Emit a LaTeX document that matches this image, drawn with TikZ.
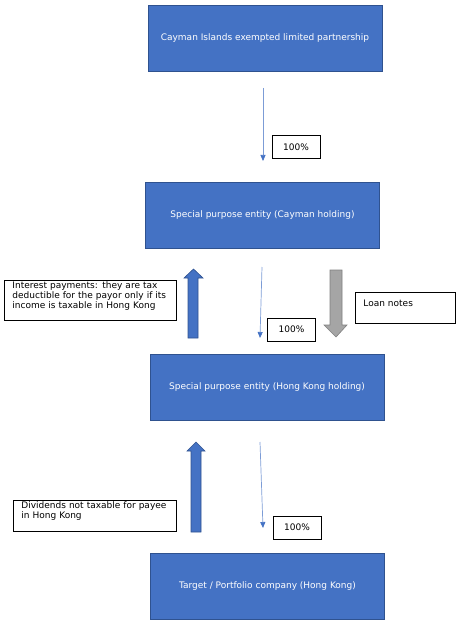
\documentclass[tikz,border=0pt]{standalone}
\usepackage{fontspec}
\setmainfont{DejaVu Sans}
\usetikzlibrary{arrows.meta}
\definecolor{boxfill}{HTML}{4472C4}
\definecolor{boxline}{HTML}{2F528F}
\definecolor{grayfill}{HTML}{A5A5A5}
\definecolor{grayline}{HTML}{7F7F7F}
\tikzset{
  entity/.style={draw=boxline, fill=boxfill, line width=0.8pt, text=white,
    font=\fontsize{9}{11}\selectfont, minimum width=234pt, minimum height=66pt, inner sep=0pt},
  labelbox/.style={draw=black, line width=0.8pt, fill=white, align=left, anchor=north west,
    font=\fontsize{9}{10}\selectfont, inner xsep=8pt, inner ysep=2pt, text height=6.5pt},
  pctbox/.style={draw=black, line width=0.8pt, fill=white, font=\fontsize{9}{10}\selectfont,
    minimum width=48pt, minimum height=23pt, inner sep=0pt},
  thinarrow/.style={draw=boxfill!70, line width=0.7pt, -{Triangle[length=6pt,width=5pt,fill=boxfill,color=boxfill]}},
  bluearrow/.style={draw=boxline, fill=boxfill, line width=0.6pt},
  grayarrow/.style={draw=grayline, fill=grayfill, line width=0.6pt},
}
\begin{document}
\begin{tikzpicture}[x=1pt,y=-1pt]
\path[use as bounding box] (0,0) rectangle (464,631);

% entities
\node[entity] (lp)  at (265,38.5)  {Cayman Islands exempted limited partnership};
\node[entity] (spv1) at (262.5,215) {Special purpose entity (Cayman holding)};
\node[entity] (spv2) at (267,387.5) {Special purpose entity (Hong Kong holding)};
\node[entity] (tgt) at (267.5,586.5) {Target / Portfolio company (Hong Kong)};

% ownership arrows
\coordinate (a1s) at (263,88);  \coordinate (a1e) at (263,161);
\coordinate (a2s) at (262,267); \coordinate (a2e) at (260,338);
\coordinate (a3s) at (260,442); \coordinate (a3e) at (263,528);
\draw[thinarrow] (a1s) -- (a1e);
\draw[thinarrow] (a2s) -- (a2e);
\draw[thinarrow] (a3s) -- (a3e);

\node[pctbox] (p1) at (296,147) {100\%};
\node[pctbox] (p2) at (291.5,329.5) {100\%};
\node[pctbox] (p3) at (297,527.5) {100\%};

% block arrows
\draw[bluearrow] (188,338) -- (188,278) -- (184,278) -- (193.5,269) -- (203,278) -- (198,278) -- (198,338) -- cycle;
\draw[grayarrow] (330,270) -- (342,270) -- (342,325) -- (347,325) -- (336,337) -- (324,325) -- (330,325) -- cycle;
\draw[bluearrow] (191,532) -- (191,451) -- (187,451) -- (196,442) -- (205,451) -- (201,451) -- (201,532) -- cycle;

% labels
\node[labelbox, text width=156pt, text depth=29.5pt] (int) at (4,280)
  {Interest payments: they are tax\\deductible for the payor only if its\\income is taxable in Hong Kong};
\node[labelbox, text width=84pt, text height=12pt, text depth=15pt] (loan) at (355,292) {Loan notes};
\node[labelbox, text width=147pt, text depth=20.5pt] (div) at (13,500)
  {Dividends not taxable for payee\\in Hong Kong};
\end{tikzpicture}
\end{document}
